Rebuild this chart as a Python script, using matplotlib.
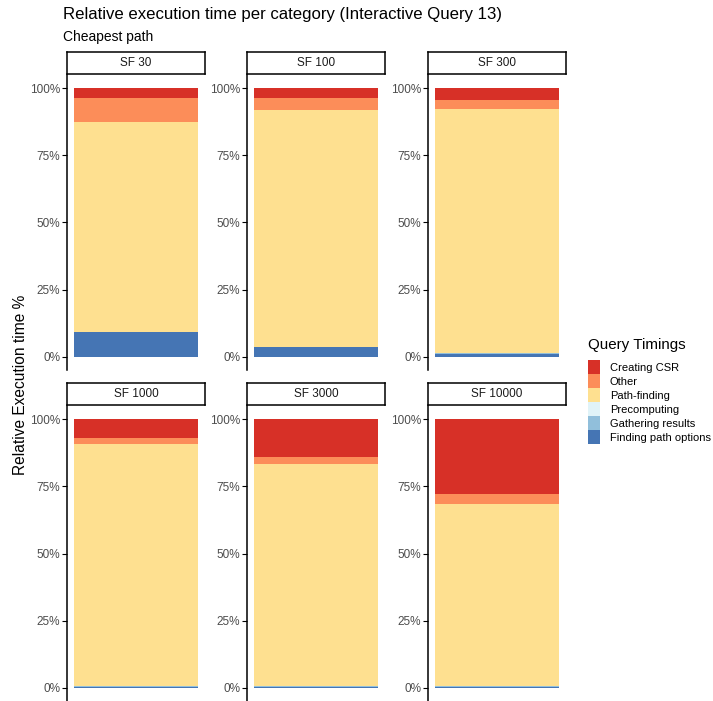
import numpy as np
import matplotlib.pyplot as plt
from matplotlib.patches import Patch

plt.rcParams['font.family'] = ['Liberation Sans', 'DejaVu Sans']

# scale factors (one panel each)
scale_factors = ["SF 30", "SF 100", "SF 300", "SF 1000", "SF 3000", "SF 10000"]

# share of execution time per category, in percent (bottom to top of stack)
finding_path_options = [9.2, 3.4, 1.1, 0.25, 0.1, 0.1]
gathering_results = [0.1, 0.1, 0.2, 0.35, 0.4, 0.35]
precomputing = [0.0, 0.0, 0.0, 0.0, 0.0, 0.0]
path_finding = [78.1, 88.3, 91.2, 90.1, 82.7, 68.05]
other = [8.9, 4.8, 3.1, 2.2, 2.8, 3.7]
creating_csr = [3.7, 3.4, 4.4, 7.1, 14.0, 27.8]

categories = ["Finding path options", "Gathering results", "Precomputing",
              "Path-finding", "Other", "Creating CSR"]
colors = ["#4575B4", "#91BFDB", "#E0F3F8", "#FEE090", "#FC8D59", "#D73027"]
series = [finding_path_options, gathering_results, precomputing,
          path_finding, other, creating_csr]


def main():
    fig = plt.figure(figsize=(7.13, 7.01), dpi=100)

    lefts = [67, 247, 428]
    tops = [75, 406]
    pw, ph = 138, 295
    W, H = 713.0, 701.0

    for i, sf in enumerate(scale_factors):
        row, col = divmod(i, 3)
        x0 = lefts[col]
        y0 = tops[row]
        ax = fig.add_axes([x0 / W, 1 - (y0 + ph) / H, pw / W, ph / H])

        bottom = 0.0
        for vals, c in zip(series, colors):
            ax.bar(0, vals[i] / 100.0, width=0.9, bottom=bottom, color=c,
                   edgecolor='none')
            bottom += vals[i] / 100.0

        ax.set_xlim(-0.497, 0.497)
        ax.set_ylim(-0.05, 1.05)
        ax.set_yticks([0, 0.25, 0.5, 0.75, 1.0])
        ax.set_yticklabels(["0%", "25%", "50%", "75%", "100%"])
        ax.set_xticks([])
        for s in ['top', 'right', 'bottom']:
            ax.spines[s].set_visible(False)
        ax.spines['left'].set_linewidth(1.1)
        ax.tick_params(axis='y', labelsize=8.5, labelcolor='#4D4D4D',
                       length=3.5, width=0.8, pad=1.5)

        # facet strip
        strip = fig.add_axes([x0 / W, 1 - (y0 - 1) / H, pw / W, 22 / H])
        strip.set_xticks([])
        strip.set_yticks([])
        for s in strip.spines.values():
            s.set_linewidth(1.1)
        strip.text(0.5, 0.5, sf, ha='center', va='center', fontsize=8.5,
                   color='#1A1A1A')

    fig.text(63 / W, 1 - 15 / H, "Relative execution time per category (Interactive Query 13)",
             fontsize=12.1, ha='left', va='center')
    fig.text(63 / W, 1 - 37 / H, "Cheapest path", fontsize=10, ha='left', va='center')
    fig.text(21 / W, 1 - 385 / H, "Relative Execution time %", fontsize=11.2,
             rotation=90, ha='center', va='center')

    handles = [Patch(facecolor=c, label=l) for c, l in
               zip(colors[::-1], categories[::-1])]
    leg = fig.legend(handles=handles, title="Query Timings", loc='upper left',
                     bbox_to_anchor=(578 / W, 1 - 328 / H), frameon=False,
                     fontsize=8, title_fontsize=10.9, handlelength=1.08,
                     handleheight=1.56, handletextpad=0.9, labelspacing=0.0,
                     borderpad=0.4)
    leg._legend_box.align = "left"
    leg._legend_box.sep = 6

    fig.savefig("out.png", dpi=100)


if __name__ == "__main__":
    main()
